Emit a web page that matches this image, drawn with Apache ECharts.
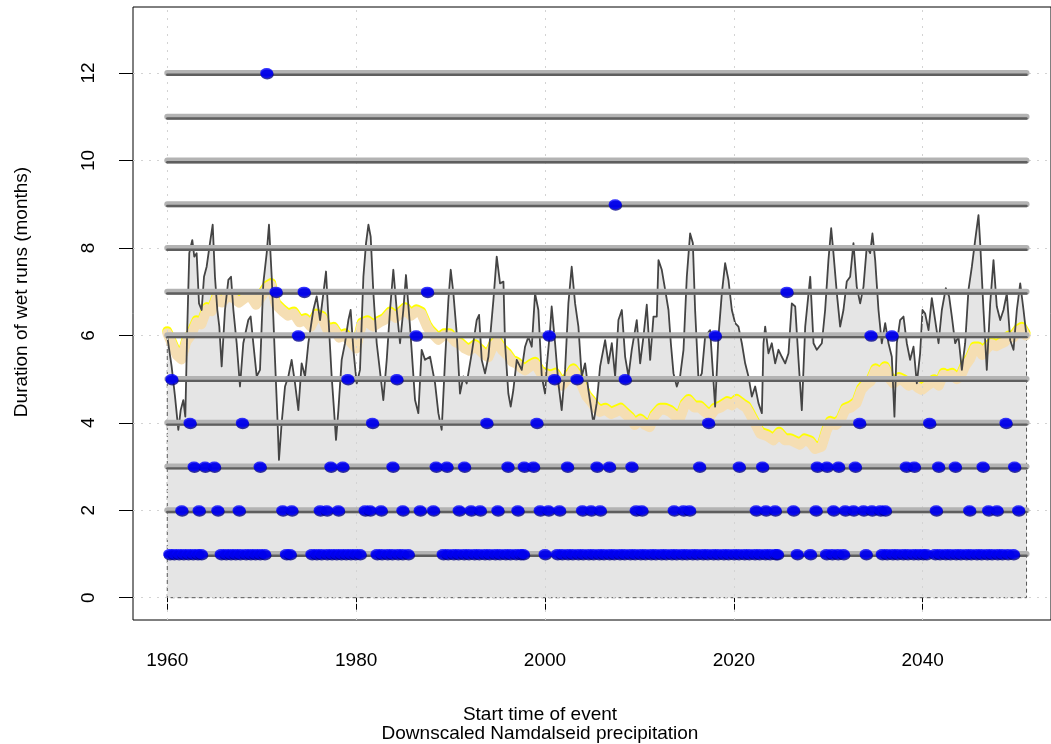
<!DOCTYPE html>
<html><head><meta charset="utf-8">
<script src="https://cdn.jsdelivr.net/npm/echarts@6/dist/echarts.min.js"></script>
<style>html,body{margin:0;padding:0;background:#fff}#c{width:1051px;height:744px}</style>
</head><body><div id="c"></div>
<script>
// ---- tick labels ----
const xTickLabels = [1960, 1980, 2000, 2020, 2040];
const yTickLabels = [0, 2, 4, 6, 8, 10, 12];
const levels = [1, 2, 3, 4, 5, 6, 7, 8, 9, 10, 11, 12];
const runStart = 1960, runEnd = 2051;

// ---- black series (running value) ----
const blackYears = [
 1960.00,1960.46,1960.82,1961.17,1961.42,1961.70,1961.91,1962.12,1962.33,1962.65,
 1962.86,1963.11,1963.36,1963.64,1963.89,1964.17,1964.52,1964.81,1965.05,1965.30,
 1965.51,1965.76,1966.11,1966.47,1966.75,1967.00,1967.35,1967.70,1968.05,1968.58,
 1968.83,1969.11,1969.47,1969.82,1970.17,1970.53,1970.77,1971.06,1971.41,1971.66,
 1971.83,1972.11,1972.47,1972.82,1973.17,1973.53,1973.88,1974.23,1974.59,1974.94,
 1975.47,1975.82,1976.18,1976.53,1976.81,1977.06,1977.41,1977.66,1977.87,1978.12,
 1978.47,1978.82,1979.18,1979.42,1979.71,1980.06,1980.41,1980.77,1981.05,1981.30,
 1981.54,1981.83,1982.18,
 1982.88,1983.24,1983.59,1983.94,1984.30,1984.65,1985.00,1985.28,1985.71,1986.24,
 1986.59,1986.94,1987.30,1987.83,1988.36,1988.71,1989.06,1989.42,1989.77,1990.02,
 1990.30,1990.65,1991.00,1991.36,1991.71,1992.24,1992.77,1993.02,1993.30,1993.65,
 1994.01,1994.54,1994.89,1995.24,1995.60,1995.77,1996.12,1996.37,1996.65,1997.01,
 1997.54,1997.89,1998.24,1998.60,1998.95,1999.30,1999.66,2000.01,2000.19,2000.54,
 2000.71,2001.07,2001.42,2001.77,2002.13,2002.48,2002.83,2003.19,2003.54,2003.89,
 2004.25,2004.60,2005.13,2005.48,
 2005.84,2006.37,2006.72,2007.08,2007.43,2007.78,2008.14,2008.49,2008.84,2009.19,
 2009.72,2010.08,2010.43,2010.78,2011.14,2011.49,2011.84,2012.02,2012.37,2012.73,
 2013.08,2013.33,2013.61,2013.96,2014.31,2014.67,2015.02,2015.37,2015.66,2015.90,
 2016.26,2016.61,2016.96,2017.49,2018.02,2018.37,2018.73,2019.08,2019.43,2019.79,
 2020.14,2020.49,2020.85,2021.20,2021.55,2021.91,2022.26,2022.61,2022.97,2023.14,
 2023.32,2023.67,2024.02,2024.38,2024.73,2025.08,2025.44,2025.79,2026.14,2026.50,
 2026.85,2027.20,2027.56,2028.09,2028.44,2028.79,
 2029.32,2029.67,2030.02,2030.31,2030.55,2030.91,2031.26,2031.61,2031.96,2032.32,
 2032.67,2033.02,2033.38,2033.73,2034.08,2034.44,2034.68,2034.97,2035.32,2035.67,
 2036.03,2036.38,2036.73,2037.01,2037.26,2037.61,2037.97,2038.32,2038.67,2039.03,
 2039.38,2039.73,2039.98,2040.26,2040.62,2040.97,2041.32,2041.68,2042.03,2042.45,
 2042.80,2043.09,2043.44,2043.79,2044.15,2044.50,2044.85,2045.21,2045.56,2045.91,
 2046.09,2046.44,2046.79,2047.15,2047.50,2047.85,2048.21,2048.56,2048.91,2049.27,
 2049.62,2049.97,2050.33,2050.68,2051.00
];
const blackVals = [
 5.97,5.29,4.60,3.84,4.29,4.52,4.14,6.20,7.88,8.18,
 7.80,7.88,6.73,6.58,7.34,7.57,8.11,8.53,7.34,6.58,
 6.20,5.29,6.58,7.27,7.34,6.58,5.82,4.83,5.82,6.35,
 6.43,5.82,5.06,5.21,7.19,7.88,8.53,7.34,5.44,4.14,
 3.15,3.99,4.83,5.06,5.44,4.90,4.29,5.36,5.06,5.82,
 6.58,6.89,6.35,6.96,7.46,6.43,5.06,4.29,3.61,4.29,
 5.44,5.82,6.35,6.58,5.67,4.90,5.21,7.34,8.11,8.53,
 8.26,6.96,5.82,
 4.52,5.44,6.58,7.50,6.58,5.82,6.58,7.38,6.20,4.52,
 4.22,5.67,5.44,5.51,4.90,4.22,3.84,5.44,6.81,7.50,
 6.96,6.05,4.67,5.06,4.90,5.59,6.35,6.47,5.44,5.13,
 5.51,6.81,7.80,7.19,7.23,5.82,4.67,4.37,4.75,5.44,
 5.21,5.74,5.97,5.74,6.96,6.58,5.06,4.67,5.29,6.12,
 6.66,5.82,4.90,4.29,5.21,6.73,7.57,6.73,6.20,5.06,
 5.36,4.75,3.99,4.45,
 5.29,5.89,5.36,5.82,5.06,6.35,6.58,5.51,5.06,5.67,
 6.35,5.36,5.97,6.70,5.44,6.43,6.43,7.72,7.50,7.04,
 6.58,5.82,5.13,4.83,5.06,5.67,7.34,8.33,8.11,6.58,
 4.98,5.13,5.97,6.12,4.37,5.97,6.96,7.65,7.27,6.58,
 6.28,6.20,5.82,5.36,5.06,4.60,4.83,4.45,4.22,5.82,
 6.20,5.59,5.82,5.36,5.67,5.51,5.36,5.59,6.73,6.66,
 5.44,4.29,6.20,7.34,5.82,5.67,
 5.82,6.58,7.72,8.45,7.88,6.96,6.20,6.58,7.23,7.34,
 8.11,7.11,6.73,7.11,8.03,7.88,8.33,7.72,6.58,5.82,
 6.28,5.82,5.51,4.14,5.82,6.35,6.43,5.82,5.44,5.74,
 4.90,5.59,6.58,6.50,6.12,6.85,6.35,5.82,6.58,7.08,
 6.89,6.43,5.82,5.97,5.21,5.82,7.04,7.57,8.18,8.75,
 8.11,6.58,5.21,6.73,7.72,6.66,6.35,6.58,6.96,5.89,
 5.67,6.58,7.19,6.58,5.97
];

// ---- smoothed series (wheat) ----
const smoothYears = [
 1960.0,1960.5,1961.0,1961.5,1962.0,1962.5,1963.1,1963.6,1964.2,1964.7,
 1965.2,1965.8,1966.4,1967.0,1967.6,1968.2,1968.8,1969.4,1970.0,1970.6,
 1971.0,1971.5,1972.2,1972.8,1973.4,1974.0,1974.6,1975.2,1975.8,1976.4,
 1977.0,1977.6,1978.2,1978.8,1979.4,1980.0,1980.6,1981.2,1981.8,1982.5,
 1983.0,1983.6,1984.2,1985.2,1985.8,1986.4,1986.9,1987.5,1987.8,1988.7,
 1989.3,1989.9,1990.5,1991.0,1991.5,1992.0,1992.6,1993.1,1993.6,1994.0,
 1994.5,1994.9,1995.5,1996.0,1996.5,1997.0,1997.5,1997.9,1998.5,1998.95,
 1999.5,2000.0,2000.6,2001.1,2001.8,2002.4,2003.0,2003.5,2003.9,2004.4,
 2004.8,2005.3,2005.8,2006.4,2007.0,2007.5,2008.0,2008.5,2009.0,2009.5,
 2010.1,2010.6,2011.1,2011.6,2012.2,2012.7,2013.25,2013.8,2014.3,2014.8,
 2015.2,2015.8,2016.4,2016.9,2017.5,2018.0,2018.6,2019.3,2019.8,2020.3,
 2020.9,2021.3,2021.7,2022.2,2022.8,2023.5,2024.2,2024.8,2025.4,2026.0,
 2026.5,2027.0,2027.5,2028.1,2028.6,2029.3,2029.8,2030.2,2030.8,2031.3,
 2031.8,2032.4,2033.0,2033.5,2033.9,2034.5,2035.0,2035.5,2036.0,2036.5,
 2036.9,2037.5,2038.0,2038.5,2039.0,2039.5,2039.9,2040.5,2041.2,2041.7,
 2042.2,2042.6,2043.1,2043.6,2044.0,2044.5,2045.0,2045.5,2045.9,2046.3,
 2046.8,2047.3,2047.8,2048.2,2048.7,2049.1,2049.6,2050.1,2050.5,2050.9
];
const smoothVals = [
 6.05,5.80,5.55,5.45,5.85,6.00,6.30,6.25,6.60,6.55,
 6.85,6.75,6.90,6.85,6.75,6.85,6.90,6.70,6.90,7.10,
 7.15,6.70,6.55,6.45,6.50,6.30,6.35,6.20,6.45,6.40,
 6.10,6.15,5.95,6.00,5.85,5.70,6.25,6.30,6.20,6.30,
 6.35,6.50,6.40,6.60,6.45,6.55,6.50,6.20,6.10,5.90,
 6.00,6.00,5.85,5.80,5.70,5.65,5.75,5.65,5.55,5.50,
 5.75,5.85,5.65,5.55,5.40,5.35,5.25,5.20,5.30,5.35,
 5.15,5.10,5.05,5.10,4.85,5.00,5.20,5.05,4.85,4.60,
 4.50,4.35,4.25,4.30,4.20,4.25,4.30,4.20,4.10,3.95,
 4.05,3.95,3.90,4.15,4.30,4.30,4.25,4.15,4.10,4.40,
 4.50,4.35,4.35,4.25,4.15,4.30,4.35,4.45,4.40,4.50,
 4.40,4.35,4.20,4.00,3.75,3.70,3.60,3.75,3.60,3.60,
 3.55,3.50,3.60,3.55,3.40,3.45,3.80,4.00,3.95,4.05,
 4.30,4.35,4.45,4.75,4.85,4.95,5.20,5.10,5.25,5.00,
 4.90,5.00,4.95,4.85,4.90,4.80,4.75,4.85,4.95,4.85,
 5.10,5.05,5.10,5.00,5.05,5.30,5.45,5.70,5.70,5.55,
 5.70,5.80,5.75,5.80,5.85,5.95,5.95,6.10,6.15,6.00
];

// ---- start times of wet runs, by duration (months) ----
const runs1 = [
 1960.25,1960.7,1961.2,1961.7,1962.2,1962.7,1963.2,1963.6,
 1965.7,1966.2,1966.7,1967.2,1967.7,1968.3,1968.8,1969.3,1969.8,1970.3,
 1972.6,1973.0,
 1975.3,1975.8,1976.3,1976.9,1977.4,1977.9,1978.4,1978.9,1979.4,1979.9,1980.4,
 1982.2,1982.7,1983.3,1983.8,1984.4,1984.9,1985.5,
 1989.2,1989.7,1990.3,1990.8,1991.4,1991.9,1992.5,1993.0,1993.6,1994.1,1994.7,1995.2,1995.8,1996.3,1996.9,1997.4,1997.7,
 2000.0,
 2001.3,2001.8,2002.4,2002.9,2003.5,2004.0,2004.6,2005.1,2005.7,2006.2,2006.8,2007.3,2007.9,2008.4,2009.0,2009.5,
 2010.1,2010.6,2011.2,2011.7,2012.3,2012.8,2013.4,2013.9,2014.5,2015.0,2015.6,2016.1,2016.7,2017.2,2017.8,2018.3,
 2018.9,2019.4,2020.0,2020.5,2021.1,2021.6,2022.2,2022.7,2023.3,2023.8,2024.4,2024.6,
 2026.7,2028.1,
 2029.8,2030.4,2031.0,2031.6,
 2034.0,
 2035.7,2036.2,2036.8,2037.3,2037.9,2038.4,2039.0,2039.5,2040.0,2040.4,
 2041.3,2041.8,2042.4,2042.9,2043.5,2044.0,2044.6,2045.1,2045.7,2046.2,2046.8,2047.3,2047.9,2048.4,2049.0,2049.6
];
const runs2 = [1961.53,1963.36,1965.34,1967.60,1972.22,1973.18,1976.18,1976.89,1978.11,1980.94,1981.47,1982.64,1984.94,1986.77,1988.18,1990.90,1992.17,1993.13,1995.00,1997.12,1999.48,2000.36,2001.53,2003.96,2004.88,2005.84,2009.65,2010.25,2013.67,2014.66,2015.30,2022.36,2023.39,2024.37,2026.31,2028.69,2030.55,2031.79,2032.67,2033.73,2034.62,2035.50,2036.03,2041.43,2044.96,2046.97,2047.86,2050.15];
const runs3 = [1962.83,1963.99,1964.98,1969.82,1977.31,1978.58,1983.88,1988.46,1989.60,1991.46,1996.06,1997.79,1998.77,2002.37,2005.49,2006.82,2009.19,2016.36,2020.56,2023.03,2028.82,2029.85,2031.08,2032.85,2038.25,2039.10,2041.67,2043.44,2046.38,2049.72];
const runs4 = [1962.40,1967.94,1981.72,1993.83,1999.13,2017.31,2033.31,2040.72,2048.81];
const runs5 = [1960.47,1979.11,1984.30,2001.00,2003.37,2008.48];
const runs6 = [1973.88,1986.35,2000.43,2018.02,2034.51,2036.74];
const runs7 = [1971.51,1974.48,1987.54,2025.61];
const runs8 = [];
const runs9 = [2007.43];
const runs10 = [];
const runs11 = [];
const runs12 = [1970.53];

// ---- build ----
const runsByLevel = [runs1,runs2,runs3,runs4,runs5,runs6,runs7,runs8,runs9,runs10,runs11,runs12];
const pointData = [];
runsByLevel.forEach((arr, i) => arr.forEach(t => pointData.push([t, levels[i]])));
const blackData = blackYears.map((t, i) => [t, blackVals[i]]);
const smoothData = smoothYears.map((t, i) => [t, smoothVals[i]]);
const outline = [[runEnd, blackVals[blackVals.length - 1]], [runEnd, 0], [runStart, 0], [runStart, blackVals[0]]];

const FONT = '"Liberation Sans", Arial, Helvetica, sans-serif';
const FS = 19;
const chart = echarts.init(document.getElementById('c'), null, {renderer: 'canvas'});
chart.setOption({
  animation: false,
  backgroundColor: '#ffffff',
  grid: {left: 133, top: 7, right: 0, bottom: 124, show: true, borderColor: '#000', borderWidth: 1, backgroundColor: 'transparent'},
  xAxis: {
    type: 'value', min: 1956.37, max: 2053.59,
    axisLine: {show: false},
    splitLine: {show: false},
    axisTick: {show: true, customValues: xTickLabels, length: 12, lineStyle: {color: '#000', width: 1}},
    axisLabel: {customValues: xTickLabels, formatter: v => String(v), color: '#000', fontSize: FS, fontFamily: FONT, margin: 31}
  },
  yAxis: {
    type: 'value', min: -0.51, max: 13.51,
    axisLine: {show: false},
    splitLine: {show: false},
    axisTick: {show: true, customValues: yTickLabels, length: 14, lineStyle: {color: '#000', width: 1}},
    axisLabel: {customValues: yTickLabels, formatter: v => String(v), rotate: 90, color: '#000', fontSize: FS, fontFamily: FONT, margin: 35}
  },
  graphic: [
    {type: 'text', x: 22, y: 292, rotation: Math.PI / 2, style: {text: 'Duration of wet runs (months)', font: FS + 'px ' + FONT, fill: '#000', textAlign: 'center', textVerticalAlign: 'middle'}},
    {type: 'text', x: 540, y: 715, style: {text: 'Start time of event', font: FS + 'px ' + FONT, fill: '#000', textAlign: 'center', textVerticalAlign: 'middle'}},
    {type: 'text', x: 540, y: 734, style: {text: 'Downscaled Namdalseid precipitation', font: FS + 'px ' + FONT, fill: '#000', textAlign: 'center', textVerticalAlign: 'middle'}}
  ],
  series: [
    {type: 'line', z: 1, data: blackData, showSymbol: false, silent: true,
     lineStyle: {width: 0, opacity: 0}, areaStyle: {color: '#e5e5e5', opacity: 1}},
    {type: 'line', z: 2, data: outline, showSymbol: false, silent: true,
     lineStyle: {color: '#555', width: 1, type: [4, 3]}},
    {type: 'line', z: 3, data: smoothData, showSymbol: false, silent: true,
     lineStyle: {color: '#F5DEB3', width: 10, cap: 'round', join: 'round', shadowColor: '#FFFF00', shadowBlur: 0, shadowOffsetY: -2}},
    {type: 'line', z: 4, data: blackData, showSymbol: false, silent: true,
     lineStyle: {color: '#444444', width: 1.8, join: 'round'}},
    {type: 'custom', z: 5, silent: true,
     data: levels.map(l => [runStart, runEnd, l]),
     encode: {x: [0, 1], y: 2},
     renderItem: function (params, api) {
       const a = api.coord([api.value(0), api.value(2)]);
       const b = api.coord([api.value(1), api.value(2)]);
       return {type: 'group', children: [
         {type: 'line', shape: {x1: a[0], y1: a[1], x2: b[0], y2: b[1]}, style: {stroke: '#b3b3b3', lineWidth: 6, lineCap: 'round'}},
         {type: 'line', shape: {x1: a[0], y1: a[1] + 1.8, x2: b[0], y2: b[1] + 1.8}, style: {stroke: '#5e5e5e', lineWidth: 2.4, lineCap: 'round'}}
       ]};
     }},
    {type: 'line', z: 6, data: [], silent: true,
     markLine: {silent: true, symbol: 'none', label: {show: false},
       lineStyle: {color: '#d3d3d3', type: [2, 6], width: 1},
       data: xTickLabels.map(v => ({xAxis: v})).concat(yTickLabels.map(v => ({yAxis: v})))}},
    {type: 'scatter', z: 10, data: pointData, silent: true,
     symbol: 'path://M0,5A5,5,0,1,1,10,5A5,5,0,1,1,0,5Z', symbolSize: [13, 10],
     itemStyle: {color: '#0000ff', shadowColor: '#00008b', shadowBlur: 0, shadowOffsetX: 0.5, shadowOffsetY: 1.5}}
  ]
});
</script>
</body></html>
